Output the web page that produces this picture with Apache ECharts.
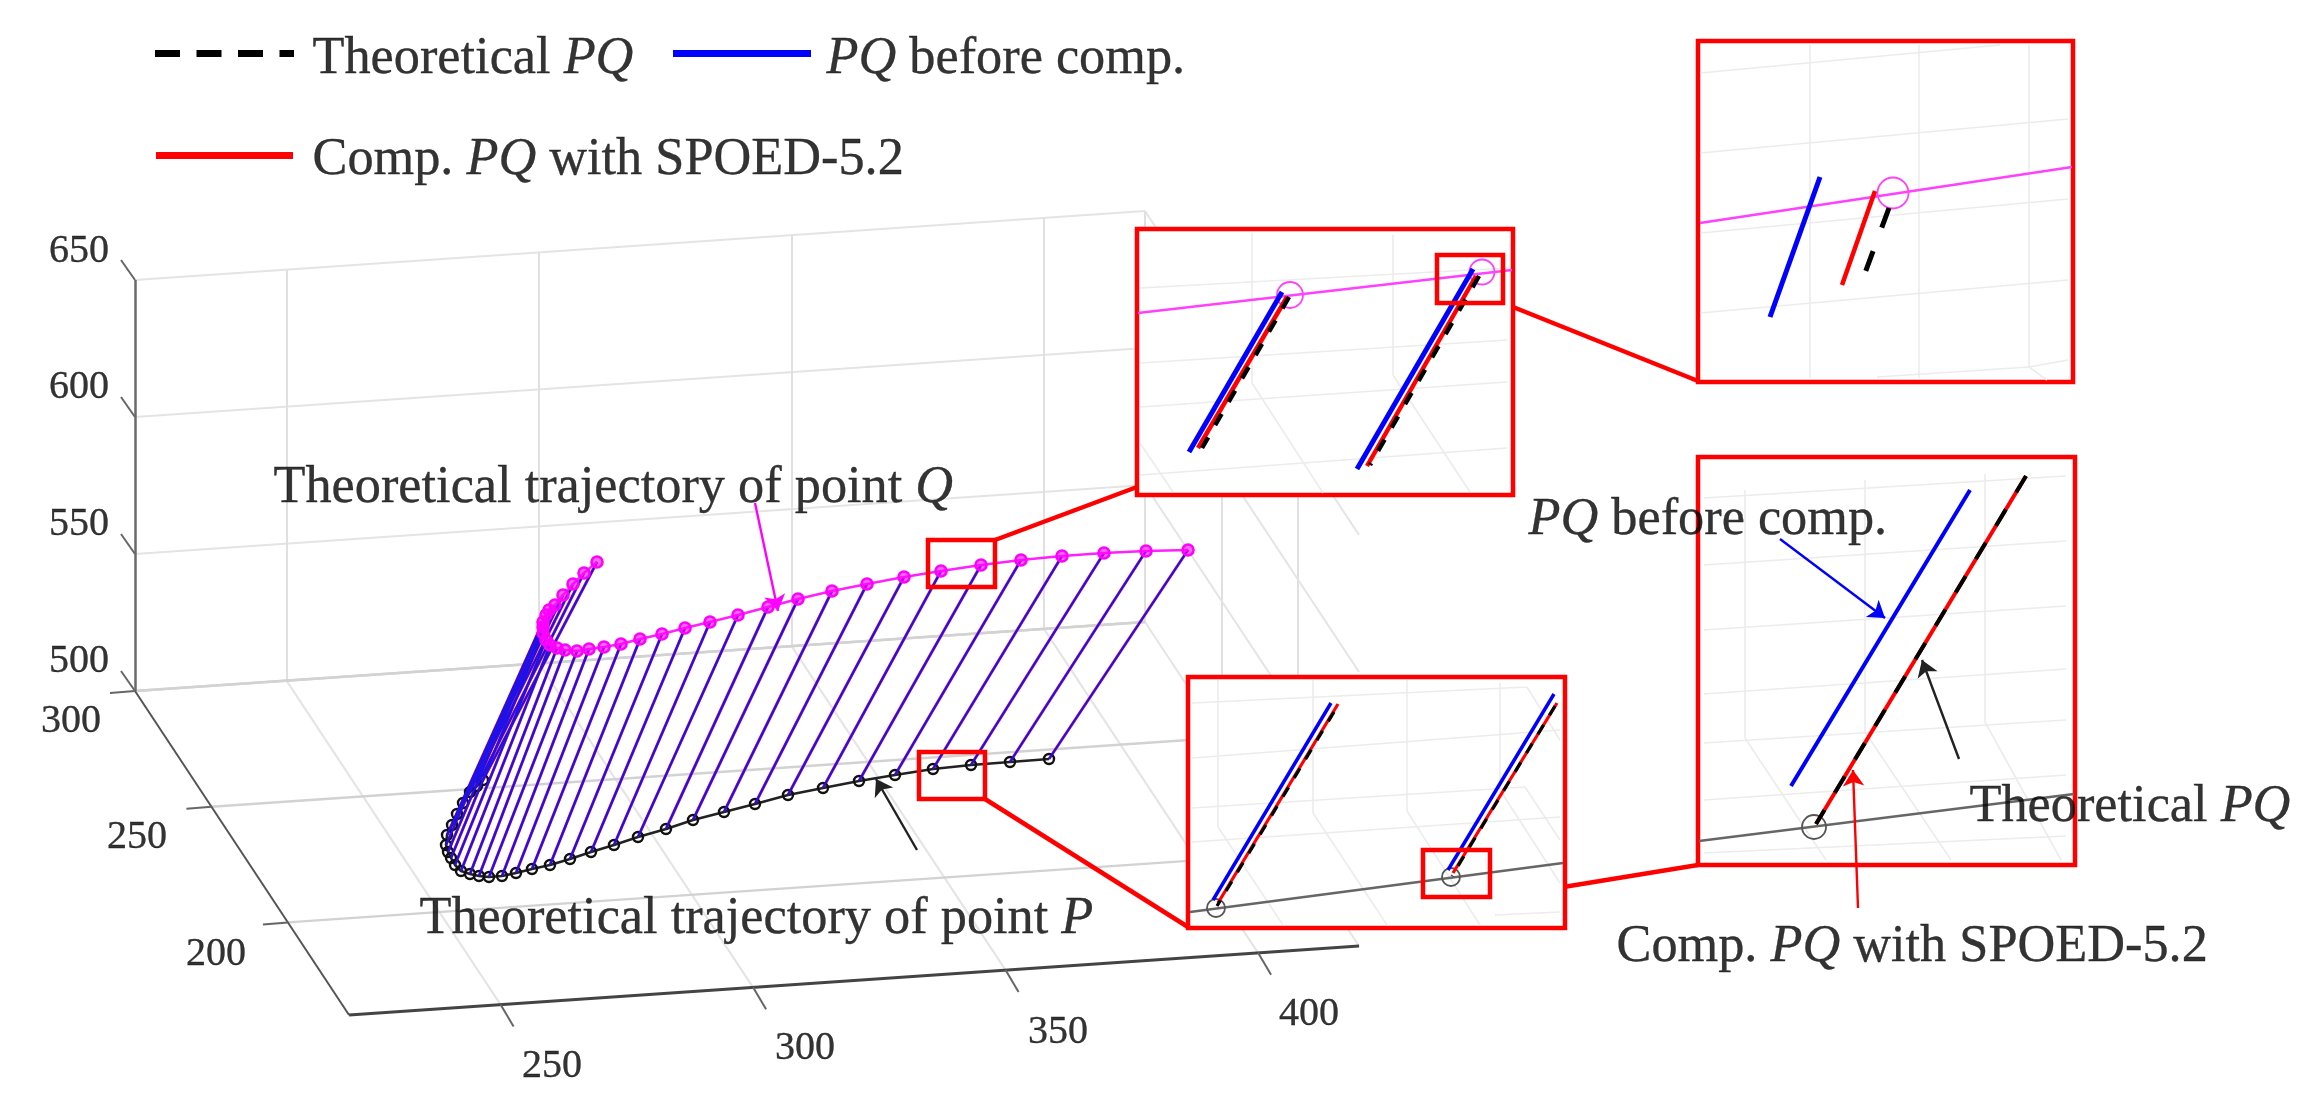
<!DOCTYPE html>
<html><head><meta charset="utf-8">
<style>html,body{margin:0;padding:0;background:#fff}#c{width:2313px;height:1109px;filter:blur(0.5px)}</style>
<script src="https://cdn.jsdelivr.net/npm/echarts@6/dist/echarts.min.js"></script>
</head><body><div id="c"></div>
<script>
// ---------- axis ticks (data units of the 3-D box) ----------
const xTicks=[250,300,350,400], yTicks=[200,250,300], zTicks=[500,550,600,650];
const xLim=[220,420], yLim=[300,160], zLim=[500,650];
// ---------- trajectories (image plane) ----------
const pointP=[[1049,759],[1010,762],[971,765],[933,769],[895,775],[859,781],[823,788],[788,795],[755,804],[724,812],[693,820],[666,829],[638,837],[614,845],[591,852],[570,859],[550,865],[532,869],[516,873],[502,876],[489,877],[479,876],[470,874],[461,871],[455,865],[451,858],[448,852],[446,845],[447,835],[452,825],[457,814],[463,803],[470,792],[477,786],[483,780]];
const pointQ=[[1188,550],[1146,551],[1104,553],[1062,556],[1021,560],[981,565],[941,571],[904,577],[867,584],[832,591],[798,599],[768,607],[738,615],[710,622],[685,628],[662,634],[640,639],[621,644],[604,647],[589,649],[577,651],[565,650],[557,648],[550,645],[546,640],[543,633],[543,627],[543,622],[546,615],[549,610],[555,605],[563,595],[573,584],[584,573],[597,562]];
// ---------- inset contents (image plane) ----------
const insetBoxes=[[1137,229,1513,495],[1698,41,2073,382],[1188,677,1565,928],[1698,457,2075,865]];
const focusBoxes=[[928,540,995,587],[919,752,985,799],[1437,255,1503,303],[1423,850,1490,897]];
const connectors=[[[995,540],[1137,487]],[[985,799],[1188,927]],[[1503,303],[1698,381]],[[1490,899],[1698,865]]];
const beforeCompAB=[[[1189,452],[1282,292]],[[1357,469],[1473,269]],[[1770,317],[1820,177]]];
const beforeCompC=[[[1213,900],[1331,703]],[[1448,870],[1554,694]]];
const beforeCompD=[[[1791,786],[1970,490]]];
const compPQAB=[[[1198,448],[1287,297]],[[1367,466],[1476,276]],[[1842,285],[1875,191]]];
const compPQC=[[[1218,903],[1338,704]],[[1453,873],[1557,703]]];
const compPQD=[[[1816,824],[2026,476]]];
const theoryPQ=[[[1289,297],[1202,448]],[[1479,276],[1370,465]]];
const theoryPQC=[[[1334,712],[1217,906]],[[1555,706],[1452,876]]];
const theoryPQD=[[[2026,476],[1816,824]]];
const theoryPQB=[[[1889,208],[1865,273]]];
const qTrace=[[[1138,313],[1512,270]],[[1700,223],[2072,167]]];
const pTrace=[[[1190,912],[1563,863]],[[1699,841],[2074,794]]];
const qCircles=[[1290,295,26],[1482,272,25],[1893,193,31]];
const pCircles=[[1216,908,18],[1451,877,18],[1814,827,24]];
const insetGrid=[
 [[1252,233],[1252,383]],[[1393,235],[1393,375]],[[1140,288],[1507,268]],[[1140,363],[1507,340]],[[1140,407],[1507,382]],[[1140,475],[1507,448]],[[1252,383],[1323,493]],[[1393,375],[1470,492]],[[1140,443],[1173,492]],
 [[1810,45],[1810,378]],[[1919,45],[1919,378]],[[2029,45],[2029,367]],[[1700,73],[2000,45]],[[1700,153],[2068,119]],[[1700,233],[2068,199]],[[1700,313],[2068,280]],[[1877,377],[2029,367]],[[2029,367],[2068,360]],[[2029,367],[2047,380]],
 [[1218,680],[1218,827]],[[1313,680],[1313,813]],[[1407,680],[1407,811]],[[1500,683],[1500,790]],[[1192,703],[1527,687]],[[1192,758],[1560,730]],[[1192,808],[1525,787]],[[1192,842],[1560,817]],[[1527,687],[1560,740]],[[1525,787],[1560,840]],[[1218,827],[1283,925]],[[1313,813],[1387,925]],[[1407,811],[1480,925]],[[1500,790],[1560,883]],[[1495,915],[1560,912]],
 [[1745,490],[1745,738]],[[1865,480],[1865,732]],[[1985,474],[1985,722]],[[1704,498],[2066,476]],[[1704,565],[2066,541]],[[1704,630],[2066,606]],[[1704,694],[2066,669]],[[1704,743],[2066,720]],[[1704,800],[2066,775]],[[1704,853],[2066,836]],[[1745,738],[1826,860]],[[1865,732],[1951,860]],[[1985,722],[2061,860]]];
const arrowsMagenta=[[[755,503],[778,611]]], arrowsBlack=[[[917,850],[876,779]],[[1959,759],[1922,660]]], arrowsBlue=[[[1780,539],[1885,618]]], arrowsRed=[[[1858,908],[1853,770]]];
const legendDash=[[[155,53],[294,53]]], legendBlue=[[[673,53],[811,53]]], legendRed=[[[156,155],[293,155]]];
// ---------- texts ----------
const annotations=[
 [312,59,'{n|Theoretical }{i|PQ}'],[826,59,'{i|PQ}{n| before comp.}'],[312,160,'{n|Comp. }{i|PQ}{n| with SPOED-5.2}'],
 [273,488,'{n|Theoretical trajectory of point }{i|Q}'],[419,919,'{n|Theoretical trajectory of point }{i|P}'],
 [1528,520,'{i|PQ}{n| before comp.}'],[1969,807,'{n|Theoretical }{i|PQ}'],[1616,947,'{n|Comp. }{i|PQ}{n| with SPOED-5.2}']];
const zLabels=[[79,661,'500'],[79,524,'550'],[79,387,'600'],[79,251,'650']];
const yLabels=[[71,721,'300'],[137,837,'250'],[216,954,'200']];
const xLabels=[[552,1066,'250'],[805,1048,'300'],[1058,1032,'350'],[1309,1014,'400']];

// image-plane position of a point of the 3-D box
const xs=[5.05,-0.345], ys=[-1.529,-2.314], zs=[0,-2.74], org=[135,691];
function pr(x,y,z){const dx=x-xLim[0],dy=y-yLim[0],dz=z-zLim[0];
 return [org[0]+dx*xs[0]+dy*ys[0]+dz*zs[0], org[1]+dx*xs[1]+dy*ys[1]+dz*zs[1]];}

const gridBack=[],gridVert=[],gridFloor=[],gridSide=[],tickLines=[];
zTicks.forEach(z=>{(z===zLim[0]?gridFloor:gridBack).push([pr(xLim[0],yLim[0],z),pr(xLim[1],yLim[0],z)]);gridSide.push([pr(xLim[1],yLim[0],z),pr(xLim[1],yLim[1],z)]);
 const p=pr(xLim[0],yLim[0],z);tickLines.push([p,[p[0]-14,p[1]-20]]);});
xTicks.forEach(x=>{gridVert.push([pr(x,yLim[0],zLim[0]),pr(x,yLim[0],zLim[1])]);gridSide.push([pr(x,yLim[0],zLim[0]),pr(x,yLim[1],zLim[0])]);
 const p=pr(x,yLim[1],zLim[0]);tickLines.push([p,[p[0]+13,p[1]+22]]);});
yTicks.forEach(y=>{gridFloor.push([pr(xLim[0],y,zLim[0]),pr(xLim[1],y,zLim[0])]);gridVert.push([pr(xLim[1],y,zLim[0]),pr(xLim[1],y,zLim[1])]);
 const p=pr(xLim[0],y,zLim[0]);tickLines.push([p,[p[0]-25,p[1]+2]]);});
const zAxisLine=[[pr(xLim[0],yLim[0],zLim[0]),pr(xLim[0],yLim[0],zLim[1])]];
const yAxisLine=[[pr(xLim[0],yLim[0],zLim[0]),pr(xLim[0],yLim[1],zLim[0])]];
const xAxisLine=[[pr(xLim[0],yLim[1],zLim[0]),pr(xLim[1],yLim[1],zLim[0])]];
const pqLines=pointP.map((p,i)=>[p,pointQ[i]]);

function seg(list,color,width,z,opt){opt=opt||{};return {type:'lines',coordinateSystem:'cartesian2d',polyline:false,silent:true,z,animation:false,
 symbol:opt.arrow?['none','arrow']:'none',symbolSize:opt.arrow||0,
 lineStyle:{color,width,opacity:1,type:opt.dash||'solid',dashOffset:opt.offset||0,cap:'butt'},data:list.map(c=>({coords:c}))};}
function boxes(list,fill,width,z){return {type:'custom',coordinateSystem:'cartesian2d',silent:true,z,animation:false,clip:false,data:list,
 renderItem(p,api){const a=api.coord([api.value(0),api.value(1)]),b=api.coord([api.value(2),api.value(3)]);
  return {type:'rect',shape:{x:a[0],y:a[1],width:b[0]-a[0],height:b[1]-a[1]},style:{fill,stroke:'#ff0000',lineWidth:width}};}};}
function circles(list,color,z){return {type:'scatter',silent:true,z,animation:false,data:list.map(c=>({value:[c[0],c[1]],symbolSize:c[2]})),
 itemStyle:{color:'rgba(0,0,0,0)',borderColor:color,borderWidth:1.8,opacity:1}};}
const serif='"Liberation Serif","Times New Roman",serif';
function texts(list,size,center,z){const ink={color:'#000',textBorderColor:'#000',textBorderWidth:0.35};
 return {type:'scatter',silent:true,z,animation:false,symbolSize:1,itemStyle:{color:'rgba(0,0,0,0)'},
 data:list.map(t=>({value:[t[0],t[1]],label:{show:true,formatter:t[2],position:center?'inside':'right',distance:0,align:center?'center':'left',verticalAlign:'middle',
  fontFamily:serif,fontSize:size,...ink,
  rich:{n:{fontFamily:serif,fontSize:size,...ink},i:{fontFamily:serif,fontSize:size,fontStyle:'italic',...ink}}}}))};}

const option={animation:false,backgroundColor:'#fff',
 grid:{left:0,right:0,top:0,bottom:0,containLabel:false},
 xAxis:{type:'value',min:0,max:2313,show:false},
 yAxis:{type:'value',min:0,max:1109,inverse:true,show:false},
 series:[
  seg(gridBack,'#e4e4e4',2,1),seg(gridVert,'#e0e0e0',2,1),seg(gridSide,'#e4e4e4',2,1),seg(gridFloor,'#d2d2d2',2.4,1),
  seg(zAxisLine,'#6a6a6a',2.5,2),seg(yAxisLine,'#555',2,2),seg(xAxisLine,'#444',3,2),seg(tickLines,'#666',2,2),
  seg(pqLines,'#ff3060',3,3),seg(pqLines,'#2010e8',2.2,4),
  {type:'line',data:pointP,z:3,silent:true,animation:false,showSymbol:true,symbol:'circle',symbolSize:10,lineStyle:{color:'#222',width:2.5},
   itemStyle:{color:'rgba(0,0,0,0)',borderColor:'#111',borderWidth:2.4}},
  {type:'line',data:pointQ,z:5,silent:true,animation:false,showSymbol:true,symbol:'circle',symbolSize:11,lineStyle:{color:'#ff20ff',width:2.5},
   itemStyle:{color:'rgba(255,0,255,.6)',borderColor:'#ff00ff',borderWidth:2.6}},
  seg(connectors,'#ff0000',4.5,6),
  boxes(insetBoxes,'#ffffff',4.5,7),
  seg(insetGrid,'#ececec',1.6,8),
  seg(qTrace,'#ff40ff',2.4,9),seg(pTrace,'#666',2.4,9),
  circles(qCircles,'#ff40ff',9),circles(pCircles,'#555',9),
  seg(beforeCompAB,'#0000ff',5,10),seg(compPQAB,'#ff0000',4.5,10),
  seg(beforeCompC,'#0000ff',3.5,10),seg(compPQC,'#ff0000',3.2,10),
  seg(beforeCompD,'#0000ff',4,10),seg(compPQD,'#ff0000',4,10),
  seg(theoryPQ,'#000',4.5,11,{dash:[13,14]}),seg(theoryPQC,'#000',3.2,11,{dash:[11,11]}),seg(theoryPQD,'#000',4,11,{dash:[19,20]}),seg(theoryPQB,'#000',5,11,{dash:[21,25]}),
  boxes(focusBoxes,'rgba(0,0,0,0)',4.5,12),
  seg(legendDash,'#000',7,13,{dash:[25,16.5]}),seg(legendBlue,'#0000ff',7,13),seg(legendRed,'#ff0000',7,13),
  seg(arrowsMagenta,'#ff00ff',2.4,14,{arrow:16}),seg(arrowsBlack,'#222',2.4,14,{arrow:16}),seg(arrowsBlue,'#0000ff',2.4,14,{arrow:16}),seg(arrowsRed,'#ff0000',2.4,14,{arrow:16}),
  texts(annotations,52.3,false,15),
  texts(zLabels,40,true,15),texts(yLabels,40,true,15),texts(xLabels,40,true,15)
 ]};
const chart=echarts.init(document.getElementById('c'),null,{renderer:'canvas'});
chart.setOption(option);
</script></body></html>
